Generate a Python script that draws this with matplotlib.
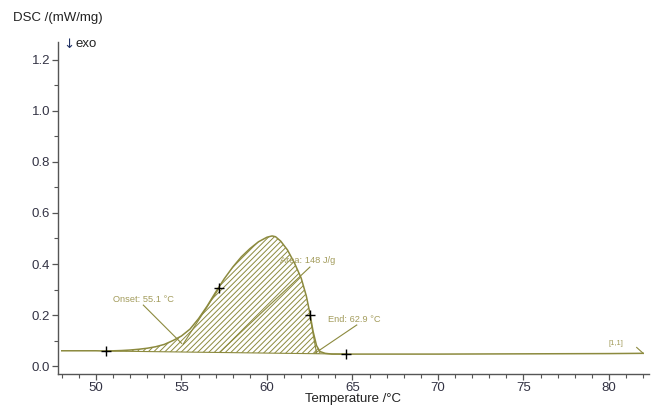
import matplotlib
matplotlib.use("Agg")
import matplotlib.pyplot as plt
from matplotlib.ticker import MultipleLocator
import numpy as np

plt.rcParams['font.family'] = ['Liberation Sans', 'DejaVu Sans']
plt.rcParams['hatch.linewidth'] = 0.7

# DSC curve (temperature in °C, DSC in mW/mg)
temperature = [48.0, 49.0, 50.0, 50.6, 51.5, 52.0, 52.5, 53.0, 53.5, 54.0, 54.5,
               55.0, 55.5, 56.0, 56.5, 57.0, 57.5, 58.0, 58.5, 59.0, 59.5, 60.0,
               60.3, 60.5, 60.8, 61.2, 61.6, 62.0, 62.3, 62.5, 62.7, 62.9, 63.1,
               63.4, 63.8, 64.6, 66.0, 70.0, 75.0, 80.0, 82.0]
dsc = [0.060, 0.060, 0.060, 0.059, 0.061, 0.063, 0.066, 0.070, 0.076, 0.085, 0.100,
       0.118, 0.145, 0.186, 0.235, 0.290, 0.342, 0.388, 0.428, 0.460, 0.487, 0.505,
       0.510, 0.507, 0.490, 0.455, 0.405, 0.345, 0.275, 0.210, 0.135, 0.080, 0.057,
       0.050, 0.047, 0.047, 0.047, 0.047, 0.048, 0.049, 0.050]

# evaluation points
baseline_start = (50.6, 0.059)
baseline_end = (64.6, 0.047)
inflection_pts_x = [57.2, 62.5]
inflection_pts_y = [0.305, 0.200]
onset_T, onset_y = 55.1, 0.086
end_T, end_y = 62.9, 0.050
area_text = "Area: 148 J/g"
onset_text = "Onset: 55.1 °C"
end_text = "End: 62.9 °C"

curve_col = '#8c8a3e'
text_col = '#a39c5c'

fig = plt.figure(figsize=(6.54, 4.05), dpi=100)
ax = fig.add_axes([58/654, 31/405, (649-58)/654, (374-42)/405])

T = np.array(temperature)
Y = np.array(dsc)

# hatched peak area between curve and baseline
mask = (T >= baseline_start[0]) & (T <= baseline_end[0])
Tm = T[mask]
base = baseline_start[1] + (baseline_end[1] - baseline_start[1]) * (Tm - baseline_start[0]) / (baseline_end[0] - baseline_start[0])
ax.fill_between(Tm, base, Y[mask], facecolor='none', edgecolor=curve_col,
                hatch='//////', linewidth=0)
ax.plot([baseline_start[0], baseline_end[0]], [baseline_start[1], baseline_end[1]],
        color=curve_col, lw=0.8)

ax.plot(T, Y, color=curve_col, lw=1.1)

# tangents
ax.plot([inflection_pts_x[0], onset_T], [inflection_pts_y[0], onset_y], color=curve_col, lw=0.8)
ax.plot([inflection_pts_x[1], end_T], [inflection_pts_y[1], end_y], color=curve_col, lw=0.8)

# markers
ax.plot([baseline_start[0], inflection_pts_x[0], inflection_pts_x[1], baseline_end[0]],
        [baseline_start[1], inflection_pts_y[0], inflection_pts_y[1], baseline_end[1]],
        linestyle='none', marker='+', color='black', markersize=7.5, markeredgewidth=1.0)

# annotations
ax.text(51.0, 0.259, onset_text, color=text_col, fontsize=6.7, va='center', ha='left')
ax.plot([52.77, 55.01], [0.239, 0.089], color=curve_col, lw=0.8)
ax.text(60.76, 0.412, area_text, color=text_col, fontsize=6.7, va='center', ha='left')
ax.plot([62.51, 57.25], [0.388, 0.055], color=curve_col, lw=0.8)
ax.text(63.57, 0.184, end_text, color=text_col, fontsize=6.7, va='center', ha='left')
ax.plot([65.25, 62.8], [0.161, 0.050], color=curve_col, lw=0.8)
ax.text(80.0, 0.090, "[1,1]", color=text_col, fontsize=5.5, va='center', ha='left')
ax.plot([81.62, 82.0], [0.073, 0.050], color=curve_col, lw=0.8)

ax.set_xlim(47.78, 82.34)
ax.set_ylim(-0.031, 1.27)
ax.xaxis.set_major_locator(MultipleLocator(5))
ax.xaxis.set_minor_locator(MultipleLocator(1))
ax.yaxis.set_major_locator(MultipleLocator(0.2))
ax.yaxis.set_minor_locator(MultipleLocator(0.1))
ax.yaxis.set_major_formatter(matplotlib.ticker.FormatStrFormatter('%.1f'))

for s in ['top', 'right']:
    ax.spines[s].set_visible(False)
for s in ['left', 'bottom']:
    ax.spines[s].set_color('#555555')
    ax.spines[s].set_linewidth(1.0)
ax.tick_params(which='major', length=4, width=0.9, color='#555555', labelsize=9.5,
               labelcolor='#333344', pad=1.5)
ax.tick_params(which='minor', length=3, width=0.8, color='#555555')

fig.text(13/654, 1 - 18/405, "DSC /(mW/mg)", fontsize=9.5, color='#222222', va='center', ha='left')
fig.text(63/654, 1 - 44/405, "↓", fontsize=9.5, color='#223366', va='center', ha='left',
         family=['DejaVu Sans'])
fig.text(75/654, 1 - 44/405, "exo", fontsize=9.5, color='#222222', va='center', ha='left')
fig.text(353/654, 1 - 399/405, "Temperature /°C", fontsize=9.5, color='#222222', va='center', ha='center')

fig.savefig("out.png", dpi=100)
